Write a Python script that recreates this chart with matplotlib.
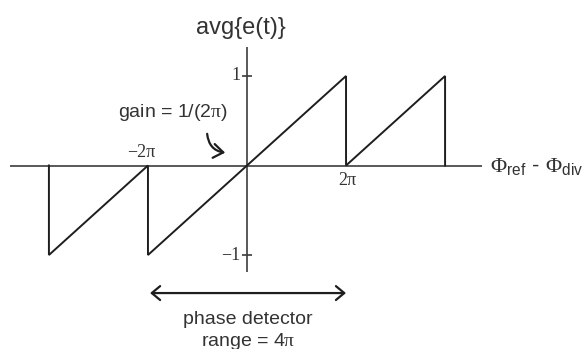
import numpy as np
import matplotlib
matplotlib.use("Agg")
import matplotlib.pyplot as plt
from matplotlib.patches import FancyArrowPatch

plt.rcParams['font.family'] = ['Liberation Sans', 'DejaVu Sans']
# sans para los subindices, serif para la letra griega (como en el original)
plt.rcParams['mathtext.fontset'] = 'custom'
plt.rcParams['mathtext.rm'] = 'Liberation Sans'
plt.rcParams['mathtext.it'] = 'Liberation Sans:italic'
plt.rcParams['mathtext.sf'] = 'Liberation Serif'

# sawtooth of the phase detector, x in multiples of pi
fase_pi = np.array([-4, -4, -2, -2, 2, 2, 4, 4])
salida = np.array([0, -1, 0, -1, 1, 0, 1, 0])
fase = fase_pi * np.pi

# marcas de los ejes
yticks = [1, -1]
yticklabels = ['1', '\u22121']
xticks_pi = [-2, 2]
xticklabels = ['\u22122\u03c0', '2\u03c0']

TXT = '#333333'
EJE = '#3c3c3c'
LINEA = '#1e1e1e'
SERIF = ['Liberation Serif', 'DejaVu Serif']

fig = plt.figure(figsize=(5.84, 3.49), dpi=100)
ax = fig.add_axes([0, 0, 1, 1])
ax.set_xlim(-15.67, 21.38)
ax.set_ylim(-2.050, 1.849)
ax.axis('off')

# ejes
ax.plot([-15.04, 14.91], [0, 0], color=EJE, lw=1.2, solid_capstyle='butt')
ax.plot([0, 0], [-1.19, 1.324], color=EJE, lw=1.2, solid_capstyle='butt')
ax.plot(np.zeros(len(yticks)), yticks, ls='none', marker='_', ms=7,
        mew=1.2, color=EJE)

# curva
ax.plot(fase, salida, color=LINEA, lw=1.4, solid_joinstyle='miter')

# etiquetas
for v, lab in zip(yticks, yticklabels):
    ax.text(-0.42, v, lab, ha='right', va='center', fontsize=13, color=TXT,
            family=SERIF)
ax.text(xticks_pi[0] * np.pi - 0.4, 0.14, xticklabels[0], ha='center',
        va='center', fontsize=13, color=TXT, family=SERIF)
ax.text(xticks_pi[1] * np.pi + 0.1, -0.17, xticklabels[1], ha='center',
        va='center', fontsize=13, color=TXT, family=SERIF)

ax.text(-0.38, 1.536, 'avg{e(t)}', ha='center', va='center', fontsize=17,
        color=TXT)
ax.text(15.42, -0.02,
        r'$\mathsf{\Phi}_{\mathrm{ref}}$ - $\mathsf{\Phi}_{\mathrm{div}}$',
        ha='left', va='center', fontsize=16, color=TXT)

ax.text(-4.70, 0.587, r'gain = 1/(2$\mathsf{\pi}$)', ha='center',
        va='center', fontsize=14, color=TXT)
flecha = FancyArrowPatch((-2.54, 0.385), (-1.21, 0.14),
                         connectionstyle='arc3,rad=0.45',
                         arrowstyle='->,head_length=0.35,head_width=0.25',
                         mutation_scale=20, lw=1.6, color=LINEA)
ax.add_patch(flecha)

# rango del detector
rango = FancyArrowPatch((-6.15, -1.425), (6.28, -1.425),
                        arrowstyle='<->,head_length=0.3,head_width=0.25',
                        mutation_scale=20, lw=1.6, color=LINEA,
                        shrinkA=0, shrinkB=0)
ax.add_patch(rango)
ax.text(0.06, -1.726, 'phase detector', ha='center', va='center',
        fontsize=14, color=TXT)
ax.text(0.06, -1.961, r'range = 4$\mathsf{\pi}$', ha='center', va='center',
        fontsize=14, color=TXT)

fig.savefig('out.png', dpi=100, facecolor='white')
